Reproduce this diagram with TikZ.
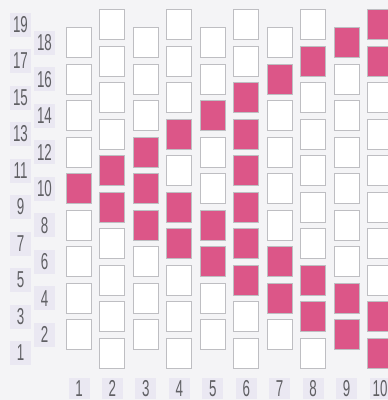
\documentclass[tikz,border=0pt]{standalone}
\usepackage{fontspec}
\setmainfont{Liberation Sans}
\usepackage{graphicx}
\definecolor{beadpink}{RGB}{220, 86, 136}
\definecolor{beadline}{RGB}{190, 190, 194}
\definecolor{paper}{RGB}{244, 244, 246}
\definecolor{tagfill}{RGB}{234, 232, 242}
\definecolor{tagtext}{RGB}{96, 96, 100}
\usetikzlibrary{positioning}
\newcommand{\narrow}[1]{\scalebox{0.58}[1]{#1}}
\tikzset{
  bead/.style={rectangle, draw=beadline, line width=1pt, fill=white,
    minimum width=25pt, minimum height=30pt, inner sep=0pt},
  pinkbead/.style={bead, fill=beadpink},
  tag/.style={rectangle, fill=tagfill, text=tagtext, minimum width=21pt,
    minimum height=24pt, inner sep=0pt, font=\fontsize{23}{23}\selectfont},
}

\begin{document}
\begin{tikzpicture}[x=1pt, y=-1pt]
  \useasboundingbox (0,0) rectangle (388,400);
  \clip (0,0) rectangle (388,400);
  \fill[paper] (0,0) rectangle (388,400);
  % beads, offset by half a row in every other column
  \foreach \c in {1,...,10} {
    \foreach \r in {1,...,19} {
      \pgfmathparse{int(mod(\c+\r,2))}
      \ifnum\pgfmathresult=1
        \node[bead] (b\c-\r) at ({79+(\c-1)*33.45}, {24.5+(19-\r)*18.25}) {};
      \fi
    }
  }
  % coloured beads
  \foreach \c/\r in {1/10, 2/11, 2/9, 3/12, 3/10, 3/8, 4/13, 4/9, 4/7,
      5/14, 5/8, 5/6, 6/15, 6/13, 6/11, 6/9, 6/7, 6/5, 7/16, 7/6, 7/4,
      8/17, 8/5, 8/3, 9/18, 9/4, 9/2, 10/19, 10/17, 10/3, 10/1}
    \node[pinkbead] (p\c-\r) at (b\c-\r) {};
  % row and column numbers
  \foreach \r in {1,3,...,19}
    \node[tag] (row\r) at (20.5, {24.5+(19-\r)*18.25}) {\narrow{\r}};
  \foreach \r in {2,4,...,18}
    \node[tag] (row\r) at (44.5, {24.5+(19-\r)*18.25}) {\narrow{\r}};
  \foreach \c in {1,...,10}
    \node[tag, minimum height=21pt] (col\c) at ({79+(\c-1)*33.45}, 388.5) {\narrow{\c}};
\end{tikzpicture}
\end{document}
